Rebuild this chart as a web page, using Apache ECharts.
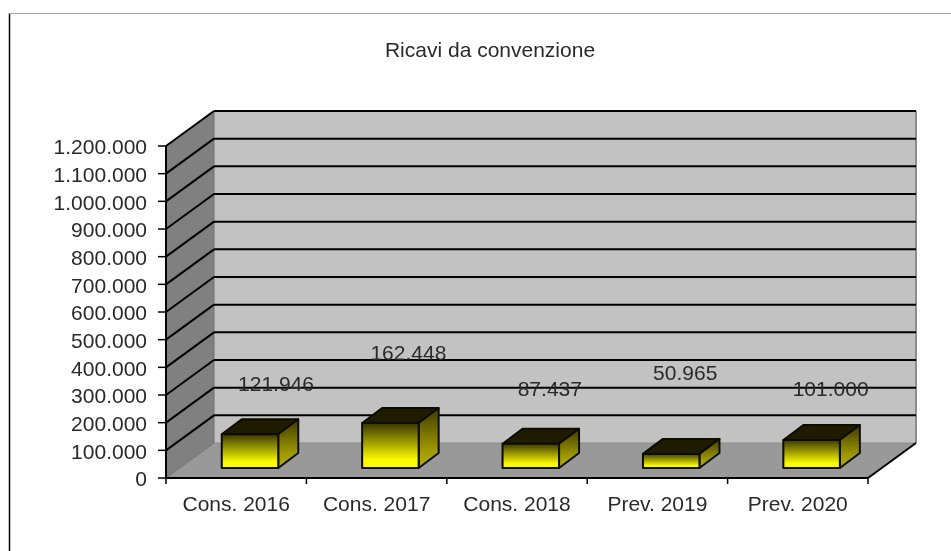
<!DOCTYPE html>
<html>
<head>
<meta charset="utf-8">
<style>html,body{margin:0;padding:0;background:#fff}#c{width:951px;height:551px}</style>
<script src="https://cdn.jsdelivr.net/npm/echarts@6/dist/echarts.min.js"></script>
</head>
<body>
<div id="c"></div>
<script>
const chartTitle = 'Ricavi da convenzione';
const categories = ['Cons. 2016', 'Cons. 2017', 'Cons. 2018', 'Prev. 2019', 'Prev. 2020'];
const values = [121946, 162448, 87437, 50965, 101000];
const yTicks = [100000, 200000, 300000, 400000, 500000, 600000, 700000, 800000, 900000, 1000000, 1100000, 1200000];
const yMax = 1200000;
const yStep = 100000;

// Oblique projection used for the fake 3D look (pixels)
const WALL_DX = 48, WALL_DY = -35;
const BAR_DX = 20, BAR_DY = -15;
const BASE_DX = 13.8, BASE_DY = -10;
const BAR_W = 56.5;
// Where the source chart happened to leave its data labels, relative to the bar
const LABEL_SHIFT = [[26, -49], [18, -69], [19, -54], [14, -80], [19, -50]];
const FONT = '"Liberation Sans", Arial, sans-serif';
const TEXT = '#2a2a2a';
const fmt = v => String(v).replace(/\B(?=(\d{3})+(?!\d))/g, '.');
const poly = (points, style) => ({ type: 'polygon', shape: { points }, style });
const line = (a, b, stroke, lineWidth) => ({ type: 'line', shape: { x1: a[0], y1: a[1], x2: b[0], y2: b[1] }, style: { stroke, lineWidth } });

function plotBox(api) {
  const half = api.size([1, 0])[0] / 2;
  const l = api.coord([0, 0])[0] - half;
  const r = api.coord([categories.length - 1, 0])[0] + half;
  const b = api.coord([0, 0])[1];
  const t = api.coord([0, yMax])[1];
  return { l, r, b, t };
}

function renderWalls(params, api) {
  const { l, r, b, t } = plotBox(api);
  const dx = WALL_DX, dy = WALL_DY;
  return { type: 'group', children: [
    poly([[l + dx, t + dy], [r + dx, t + dy], [r + dx, b + dy], [l + dx, b + dy]], { fill: '#c2c2c2' }),
    poly([[l, b], [l + dx, b + dy], [l + dx, t + dy], [l, t]], { fill: '#808080' }),
    poly([[l, b], [r, b], [r + dx, b + dy], [l + dx, b + dy]], { fill: '#999999' }),
    line([r + dx, t + dy], [r + dx, b + dy], '#8c8c8c', 2),
    line([l + dx, b + dy], [r + dx, b + dy], '#8c8c8c', 1),
    line([l, b], [l + dx, b + dy], '#707070', 1),
    line([l + dx, t + dy], [l + dx, b + dy], '#707070', 1),
    line([r, b], [r + dx, b + dy], '#000', 2),
    line([l, t], [l + dx, t + dy], '#333', 1)
  ] };
}

function renderGrid(params, api) {
  const { l, r } = plotBox(api);
  const y = api.coord([0, api.value(0)])[1];
  return { type: 'group', children: [
    line([l, y], [l + WALL_DX, y + WALL_DY], '#000', 2),
    line([l + WALL_DX, y + WALL_DY], [r + WALL_DX, y + WALL_DY], '#000', 2)
  ] };
}

function renderBar(params, api) {
  const c = api.coord([api.value(0), 0]);
  const top = api.coord([api.value(0), api.value(1)]);
  const x0 = c[0] + BASE_DX - BAR_W / 2, x1 = x0 + BAR_W;
  const y0 = c[1] + BASE_DY, y1 = top[1] + BASE_DY;
  const edge = { stroke: '#0c0c00', lineWidth: 2, lineJoin: 'round' };
  return { type: 'group', children: [
    poly([[x0, y1], [x1, y1], [x1 + BAR_DX, y1 + BAR_DY], [x0 + BAR_DX, y1 + BAR_DY]], { fill: '#1e1b00', ...edge }),
    poly([[x1, y0], [x1, y1], [x1 + BAR_DX, y1 + BAR_DY], [x1 + BAR_DX, y0 + BAR_DY]], {
      fill: { type: 'linear', x: 0, y: 0, x2: 0, y2: 1, colorStops: [{ offset: 0, color: '#3c3800' }, { offset: 0.7, color: '#a09a00' }, { offset: 1, color: '#b4b000' }] }, ...edge }),
    poly([[x0, y0], [x1, y0], [x1, y1], [x0, y1]], {
      fill: { type: 'linear', x: 0, y: 0, x2: 0, y2: 1, colorStops: [{ offset: 0, color: '#333000' }, { offset: 0.8, color: '#fafa00' }, { offset: 1, color: '#ffff00' }] }, ...edge })
  ] };
}

function renderLabel(params, api) {
  const i = api.value(0);
  const c = api.coord([i, 0]);
  return { type: 'text', style: {
    text: fmt(api.value(1)), x: c[0] + BASE_DX + LABEL_SHIFT[i][0], y: api.coord([i, api.value(1)])[1] + BASE_DY + LABEL_SHIFT[i][1],
    align: 'center', verticalAlign: 'middle', fill: TEXT, fontSize: 21, fontFamily: FONT
  } };
}

const chart = echarts.init(document.getElementById('c'), null, { renderer: 'canvas' });
const barData = values.map((v, i) => [i, v]);
chart.setOption({
  animation: false,
  backgroundColor: '#fff',
  title: { text: chartTitle, left: 490, top: 41, textAlign: 'center', padding: 0,
    textStyle: { fontFamily: FONT, fontSize: 21, fontWeight: 'normal', color: TEXT } },
  grid: { left: 166, right: 83, top: 146, bottom: 73 },
  xAxis: { type: 'category', data: categories, boundaryGap: true,
    axisLine: { show: false },
    axisTick: { show: false },
    axisLabel: { color: TEXT, fontSize: 21, fontFamily: FONT, margin: 17 } },
  yAxis: { type: 'value', min: 0, max: yMax, interval: yStep,
    axisLine: { show: false },
    axisTick: { show: false },
    splitLine: { show: false },
    axisLabel: { color: TEXT, fontSize: 21, fontFamily: FONT, margin: 19, verticalAlign: 'top', lineHeight: 5, formatter: fmt } },
  series: [
    { type: 'custom', name: 'walls', silent: true, clip: false, z: 1, data: [[0]], renderItem: renderWalls },
    { type: 'custom', name: 'grid', silent: true, clip: false, z: 2, data: yTicks.map(v => [v]), renderItem: renderGrid },
    { type: 'custom', name: 'axes', silent: true, clip: false, z: 3, data: [[0]], renderItem: (p, api) => {
        const { l, r, b, t } = plotBox(api);
        const band = (r - l) / categories.length;
        const kids = [line([l, t], [l, b], '#000', 2), line([l - 1, b], [r, b], '#000', 2)];
        [0].concat(yTicks).forEach(v => { const y = api.coord([0, v])[1]; kids.push(line([l - 8, y], [l, y], '#000', 1.5)); });
        for (let i = 0; i <= categories.length; i++) kids.push(line([l + band * i, b], [l + band * i, b + 6], '#000', 1.5));
        return { type: 'group', children: kids };
      } },
    { type: 'custom', name: 'bars', clip: false, z: 4, data: barData, renderItem: renderBar },
    { type: 'custom', name: 'labels', silent: true, clip: false, z: 5, data: barData, renderItem: renderLabel }
  ],
  graphic: [
    { type: 'line', shape: { x1: 9.5, y1: 13, x2: 9.5, y2: 551 }, style: { stroke: '#000', lineWidth: 1.5 } },
    { type: 'line', shape: { x1: 9, y1: 13.5, x2: 951, y2: 13.5 }, style: { stroke: '#a8a8a8', lineWidth: 1 } }
  ]
});
</script>
</body>
</html>
